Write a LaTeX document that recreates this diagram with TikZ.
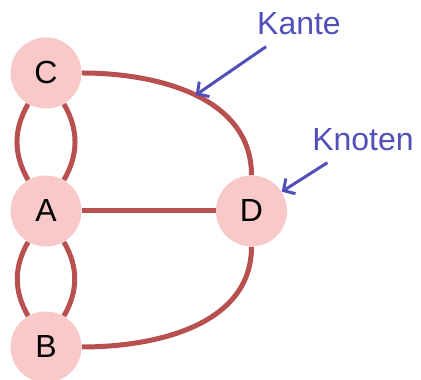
\documentclass[tikz,border=0pt]{standalone}
\usepackage{fontspec}
\setmainfont{Liberation Sans}
\usepackage{xcolor}
\usetikzlibrary{arrows.meta}
\definecolor{knotfill}{RGB}{249,200,200}
\definecolor{kantered}{RGB}{184,80,80}
\definecolor{notblue}{RGB}{80,80,184}
\tikzset{
	vertex/.style={circle,fill=knotfill,minimum size=1.42cm,inner sep=0pt,
		font=\fontsize{18.2}{22}\selectfont},
	link/.style={kantered,line width=0.1cm},
	tag/.style={notblue,inner sep=0.12cm,outer sep=0.11cm,
		font=\fontsize{18.2}{22}\selectfont},
	pointer/.style={notblue,line width=0.06cm,-{Straight Barb[length=1.7mm,width=3.6mm]}}
}
\begin{document}
\begin{tikzpicture}
	\useasboundingbox (0,0) rectangle (8.42,7.6);
	\node[vertex] (C) at (0.92,6.14) {C};
	\node[vertex] (A) at (0.92,3.38) {A};
	\node[vertex] (B) at (0.92,0.66) {B};
	\node[vertex] (D) at (5.03,3.38) {D};
	\node[tag] (kante) at (5.98,7.12) {Kante};
	\node[tag] (knoten) at (7.26,4.8) {Knoten};
	% Kanten
	\draw[link] (C) to[bend right=30] (A);
	\draw[link] (C) to[bend left=30] (A);
	\draw[link] (A) to[bend right=30] (B);
	\draw[link] (A) to[bend left=30] (B);
	\draw[link] (A) -- (D);
	\draw[link] (C) to[out=0,in=90] coordinate[pos=0.5] (kantetip) (D);
	\draw[link] (B) to[out=0,in=-90] (D);
	% Beschriftung
	\draw[pointer] (kante) -- (kantetip);
	\draw[pointer] (knoten) -- (D);
\end{tikzpicture}
\end{document}
